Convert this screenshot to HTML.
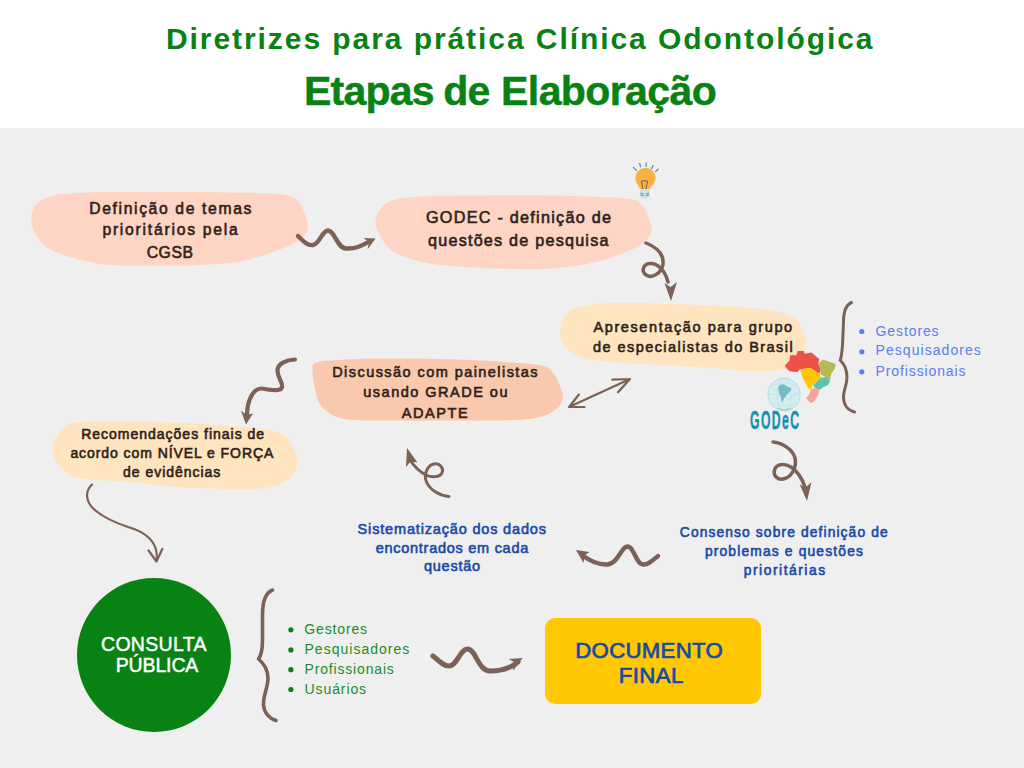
<!DOCTYPE html>
<html><head><meta charset="utf-8">
<style>
html,body{margin:0;padding:0;}
body{width:1024px;height:768px;position:relative;overflow:hidden;background:#fff;font-family:"Liberation Sans",sans-serif;}
#bg{position:absolute;left:0;top:128px;width:1024px;height:640px;background:#efefef;}
svg{position:absolute;left:0;top:0;}
.t{position:absolute;white-space:nowrap;line-height:1;}
.h1{color:#078213;font-weight:bold;font-size:30px;letter-spacing:1.93px;}
.h2{color:#078213;font-weight:bold;font-size:41px;letter-spacing:-0.8px;word-spacing:-1px;-webkit-text-stroke:0.5px #078213;}
.bx{color:#30221a;}
.bl{color:#184ba8;}
.gl{color:#1b8c26;}
.bu{color:#5a7ef0;}
.cw{color:#fff;}
.cd{color:#174aa8;}
</style></head>
<body>
<div id="bg"></div>
<svg width="1024" height="768" viewBox="0 0 1024 768">
  <!-- blobs -->
  <path fill="#fed5c4" d="M31.3,221.0 C30.9,215.0 32.6,208.1 36.7,203.8 C40.8,199.5 47.5,196.9 56.0,195.0 C64.5,193.1 76.8,193.0 87.5,192.5 C98.2,192.0 103.8,192.1 120.0,192.0 C136.2,191.9 163.8,191.9 185.0,192.0 C206.2,192.1 231.9,192.5 247.5,192.8 C263.1,193.1 271.1,193.2 278.8,194.0 C286.6,194.8 290.1,195.3 294.0,197.5 C297.9,199.7 299.7,202.5 302.0,206.9 C304.3,211.3 307.3,219.1 307.6,224.0 C307.9,228.9 307.6,232.6 303.8,236.5 C300.0,240.4 294.4,243.6 285.0,247.5 C275.6,251.4 259.0,257.2 247.5,260.0 C236.0,262.8 226.4,263.1 216.0,264.0 C205.6,264.9 201.2,265.2 185.0,265.5 C168.8,265.8 135.1,266.2 118.8,265.5 C102.5,264.8 98.0,263.8 87.5,261.5 C77.0,259.2 64.1,255.6 56.0,252.0 C47.9,248.4 43.1,244.9 39.0,239.7 C34.9,234.5 31.7,227.0 31.3,221.0 Z"/>
  <path fill="#fed5c4" d="M375.5,224.0 C374.7,218.0 378.0,212.4 381.0,208.4 C384.0,204.4 387.4,201.8 393.4,199.8 C399.4,197.9 405.2,197.4 416.9,196.7 C428.6,196.0 444.9,195.8 463.8,195.6 C482.6,195.3 510.2,195.1 530.0,195.2 C549.8,195.3 565.9,195.7 582.5,196.2 C599.1,196.8 619.5,197.2 629.4,198.8 C639.3,200.3 638.8,202.4 641.9,205.3 C645.0,208.2 646.4,212.1 648.0,216.2 C649.6,220.4 652.2,226.1 651.7,230.3 C651.2,234.5 648.7,237.9 645.0,241.2 C641.3,244.6 637.2,247.2 629.4,250.6 C621.6,254.0 608.4,258.9 598.0,261.6 C587.6,264.3 578.2,265.7 566.9,267.0 C555.6,268.3 544.6,269.3 530.0,269.4 C515.4,269.5 495.2,268.7 479.0,267.8 C462.8,266.9 445.5,266.1 432.5,264.0 C419.5,261.9 408.8,258.6 401.0,255.3 C393.2,252.0 389.9,249.6 385.6,244.4 C381.4,239.2 376.3,230.0 375.5,224.0 Z"/>
  <path fill="#fee5c0" d="M560.2,329.0 C560.3,324.3 562.6,320.0 564.8,316.6 C567.0,313.2 568.0,310.9 573.4,308.8 C578.8,306.6 587.8,305.0 596.9,304.0 C606.0,303.0 612.5,302.7 628.0,302.8 C643.5,302.9 669.2,303.9 690.0,304.8 C710.8,305.7 736.9,306.6 752.5,308.0 C768.1,309.4 776.2,311.2 783.8,313.4 C791.3,315.6 794.4,317.9 797.8,321.2 C801.2,324.6 802.7,329.8 804.0,333.8 C805.3,337.7 806.4,340.8 805.6,344.7 C804.8,348.6 803.0,353.1 799.4,357.2 C795.8,361.2 791.6,366.7 783.8,369.0 C775.9,371.3 764.8,371.4 752.5,371.2 C740.2,371.1 725.5,369.0 710.0,368.0 C694.5,367.0 675.6,366.0 659.4,365.0 C643.1,364.0 625.6,363.5 612.5,362.2 C599.4,360.9 589.1,360.1 581.0,357.2 C572.9,354.3 567.5,349.4 564.0,344.7 C560.5,340.0 560.1,333.7 560.2,329.0 Z"/>
  <path fill="#f8c9ad" d="M312.5,370.3 C312.7,367.5 311.7,364.9 314.8,363.3 C317.9,361.7 320.5,361.4 331.0,360.6 C341.5,359.8 358.2,358.8 378.0,358.6 C397.8,358.4 428.7,358.7 450.0,359.3 C471.3,359.9 490.2,360.9 505.7,362.0 C521.2,363.1 534.8,363.8 542.8,365.8 C550.8,367.8 551.0,370.4 553.9,374.0 C556.8,377.6 558.9,383.4 560.4,387.1 C561.9,390.8 562.9,393.3 562.8,396.4 C562.6,399.5 562.2,402.6 559.5,405.7 C556.8,408.8 552.4,412.7 546.5,415.0 C540.6,417.3 533.6,418.7 524.2,419.6 C514.8,420.5 502.4,420.4 490.0,420.6 C477.6,420.8 465.0,420.6 450.0,420.6 C435.0,420.6 415.0,420.7 400.0,420.6 C385.0,420.5 370.0,420.6 360.0,420.2 C350.0,419.8 345.5,419.4 340.0,418.0 C334.5,416.6 330.5,414.0 327.0,411.5 C323.5,409.0 320.9,406.2 319.0,403.0 C317.1,399.8 316.4,395.8 315.5,392.0 C314.6,388.2 314.0,383.6 313.5,380.0 C313.0,376.4 312.3,373.1 312.5,370.3 Z"/>
  <path fill="#fee5c0" d="M52.3,446.9 C52.9,443.0 55.3,438.2 57.8,434.6 C60.3,431.0 63.4,427.1 67.3,425.0 C71.2,422.9 71.9,422.7 81.0,422.0 C90.1,421.3 107.2,420.8 122.0,420.9 C136.8,420.9 155.2,421.7 170.0,422.3 C184.8,422.9 197.3,423.5 211.0,424.4 C224.7,425.3 240.6,426.4 252.0,427.8 C263.4,429.2 273.0,430.1 279.4,432.6 C285.8,435.1 287.4,439.1 290.3,442.8 C293.2,446.5 295.2,451.6 296.5,455.0 C297.8,458.4 298.3,460.3 297.8,463.3 C297.3,466.3 295.6,469.9 293.7,472.9 C291.8,475.8 290.9,478.5 286.2,481.0 C281.5,483.5 273.7,486.5 265.7,487.9 C257.7,489.3 249.8,489.3 238.4,489.3 C227.0,489.3 208.7,488.4 197.3,488.0 C185.9,487.6 180.3,487.5 170.0,486.6 C159.7,485.7 148.2,483.6 135.7,482.5 C123.1,481.4 105.0,480.6 94.7,479.7 C84.5,478.8 79.7,478.8 74.2,477.0 C68.7,475.2 65.2,472.0 61.9,468.8 C58.6,465.6 56.0,461.5 54.4,457.9 C52.8,454.2 51.7,450.8 52.3,446.9 Z"/>
  <circle cx="154" cy="655" r="77" fill="#078213"/>
  <rect x="545" y="618" width="216" height="86" rx="10" fill="#ffc800"/>
  <!-- arrows -->
  <g fill="none" stroke="#7c6157" stroke-linecap="round" stroke-linejoin="round">
    <path stroke-width="4.4" d="M298,236 C304,242 308,246 313,245 C320,244 322,230.5 328,230.5 C335,231 337,248 346,248.5 C356,249 364,245 370,241"/>
    <path stroke-width="3.5" d="M646,243 C656,247 664,254 663,264 C662,273 652,279 646,275 C641,271 643,264 650,263.5 C657,263 665,270 668,282"/>
    <path stroke-width="2.2" d="M569,407 L630,379 M579,394.5 L569,407 L584.5,407 M612.3,379.7 L630,379 L618,392.3"/>
    <path stroke-width="4.2" d="M295,359.5 C287,360 278,363 277.5,370 C277,377 283,382 282,387 C281,392 270,390 262,388.5 C254,388 249,398 247.5,408 L247,414"/>
    <path stroke-width="2.2" d="M92,484.5 C84,492 86,503 96,511 C106,519 116,523 128,527 C142,531 152,538 155.5,548 C157,553 157,558 156.5,561.5 M148.5,550.5 L156.5,561.5 L162.3,549"/>
    <path stroke-width="3" d="M449,496.5 C440,496 430,490 426.5,482 C423,474 428,465 434,464 C440,463 444,468 442,473 C440,477 432,478 426,475 C420,472 414,466 410,460"/>
    <path stroke-width="3.5" d="M773,442 C783,443 793,450 795,458 C797,467 792,476 785,478.5 C778,481 773,476 774.5,470 C776,464 784,463 791,467 C797,471 802,478 805,487"/>
    <path stroke-width="4.4" d="M658,556 C652,561 648,565 643,564.5 C636,564 634,546.5 627.5,546.5 C621,546.5 618,564 607,564.5 C598,565 590,561 582,555"/>
    <path stroke-width="5" d="M433,656 C440,662 444,666 449,666 C457,666 460,649 467.5,649 C476,649 478,671 490,671 C502,671 512,667 518,662"/>
    <path stroke-width="3" d="M851.5,302.5 C845.5,305 843.5,312 843.5,322 L842.5,345 C842,352 841.5,357 840.2,360.3 C844,364 847,370 847,377 C847,385 843.5,390 843.5,397 C843.5,405 848,410.5 854.5,412"/>
    <path stroke-width="3.6" d="M272.5,590 C265,593 262.5,602 262.5,615 L262.5,640 C262.5,650 261.5,655 258.5,659 C262,662 268,668 268,678 C268,688 263,695 263.5,705 C264,713 270,719 276,720.5"/>
  </g>
  <g fill="#7c6157">
    <path d="M375.5,238.5 L363.5,238 L369,242 L367.5,249.5 Z"/>
    <path d="M664.5,283 L670.5,287 L677,282 L671,301 Z"/>
    <path d="M241,410.5 L246.5,415 L253,413.5 L246,424.5 Z"/>
    <path d="M407,448 L406,467 L410.5,461.5 L417.5,462.5 Z"/>
    <path d="M799.5,484 L805,488 L811.5,482 L807,501 Z"/>
    <path d="M576,550 L589.5,552 L584.5,555.5 L583.5,563 Z"/>
    <path d="M522.7,658 L508.8,659 L514,662 L513,670.8 Z"/>
  </g>
  <!-- bullets -->
  <g fill="#078213"><circle cx="290.9" cy="629.8" r="2.6"/><circle cx="290.9" cy="649.9" r="2.6"/><circle cx="290.9" cy="669.7" r="2.6"/><circle cx="290.9" cy="689.5" r="2.6"/></g>
  <g fill="#5a7ef0"><circle cx="861.8" cy="331.5" r="2.6"/><circle cx="861.8" cy="351.8" r="2.6"/><circle cx="861.8" cy="371.8" r="2.6"/></g>
  <!-- brazil map -->
  <path fill="#ee5246" d="M784.9,365.4 L789.5,360.8 L790.1,355.6 L792.7,355 L796,355.6 L797.9,351.1 L803.8,351.1 L804.5,353.7 L811.6,352.4 L814.9,355.6 L819.4,358.9 L818.1,363.4 L820.7,368.6 L819.4,373.9 L815.5,371.25 L810.3,368 L799.9,369.3 L797.3,371.9 L789.5,371.25 L786.2,368 Z"/>
  <path fill="#b5ba58" d="M818.1,363.4 L823.3,359.5 L835.7,364.1 L835.1,368 L831.1,373.9 L829.8,381.7 L825.9,377.1 L820.7,374.5 L820.1,368.6 Z"/>
  <path fill="#ffc600" d="M799.9,369.3 L810.3,368 L815.5,371.25 L820.1,374.5 L820.7,377.8 L816.8,381.7 L812.9,384.3 L811,390.1 L807.7,387.5 L805.1,382.3 L802.5,377.8 L801.2,372.6 Z"/>
  <path fill="#5cc4ad" d="M812.9,384.9 L816.8,381.7 L820.7,377.8 L825.9,377.1 L829.8,381.7 L827.9,384.9 L823.3,386.9 L819.4,390.1 L815.5,388.2 Z"/>
  <path fill="#f7a39b" d="M811,390.1 L815.5,387.5 L819.4,390.8 L818.1,395.3 L814.2,401.2 L811,403.2 L805.8,397.9 L809,394.7 Z"/>
  <!-- globe -->
  <circle cx="784.1" cy="394.5" r="16.3" fill="#d6edef" stroke="#b9dfe3" stroke-width="1"/><path d="M777,408 C781,410.5 788,410.5 792,408" fill="none" stroke="#a9d6dc" stroke-width="2"/>
  <g fill="none" stroke="#a6d4da" stroke-width="0.6" opacity="0.55"><ellipse cx="784.1" cy="394.5" rx="7" ry="16"/><line x1="768" y1="394.5" x2="800" y2="394.5"/><path d="M770,386 C778,383 790,383 798,386 M770,403 C778,406 790,406 798,403"/><path d="M772,388 L790,400 L797,392 M776,400 L786,386"/></g>
  <path fill="#72bcc6" d="M778.3,387 L780.6,384.7 L783.75,384.3 L786.9,386.25 L791.6,388.6 L790,391.7 L786.9,394.5 L785.3,397.2 L783.75,398.75 L782.6,402.7 L781.4,401.1 L781,397.2 L779,392.5 L778.3,389.4 Z"/>
  <!-- lightbulb -->
  <g>
    <g stroke="#5578a8" stroke-width="1.1" stroke-linecap="round">
      <line x1="633.4" y1="167.3" x2="636.4" y2="170.3"/><line x1="639.7" y1="163.4" x2="640.5" y2="166.8"/><line x1="646.3" y1="162.8" x2="646.1" y2="166.4"/><line x1="653.1" y1="165.6" x2="651.6" y2="168.7"/><line x1="658.2" y1="169.2" x2="655.6" y2="171.6"/>
    </g>
    <path d="M645.5,168 C651.5,168 655.6,172.5 655.6,178 C655.6,182.5 652,185 649.8,189.3 L640.2,189.3 C638,185 635.4,182.5 635.4,178 C635.4,172.5 639.5,168 645.5,168 Z" fill="#fbb044"/>
    <path d="M641.5,181.5 L643,189 M647.5,181.5 L646,189 M641,181.5 C643,180.5 646,180.5 648,181.5" stroke="#4d5a6a" stroke-width="0.9" fill="none"/>
    <path d="M640,189.3 L649.6,189.3 L649.4,196.8 L647,198.8 L642.5,198.8 L640.2,196.8 Z" fill="#cce3e6"/>
    <path d="M640.5,193 L643.5,194 M640.5,195 L643.5,195.5 M646,194 L649,193 M646,195.5 L649,195" stroke="#5a84b0" stroke-width="0.9"/>
  </g>
</svg>

<div class="t h1" style="left:166px;top:24px;">Diretrizes para prática Clínica Odontológica</div>
<div class="t h2" style="left:304px;top:71px;">Etapas de <span style="letter-spacing:-0.6px;margin-left:2px">Elaboração</span></div>
<div class="t bx" style="left:89.2px;top:200.7px;font-size:15.7px;letter-spacing:1.64px;font-weight:normal;-webkit-text-stroke:0.6px currentColor;">Definição de temas</div>
<div class="t bx" style="left:102.4px;top:222.2px;font-size:15.7px;letter-spacing:1.76px;font-weight:normal;-webkit-text-stroke:0.6px currentColor;">prioritários pela</div>
<div class="t bx" style="left:146.7px;top:244.5px;font-size:15.7px;letter-spacing:0.60px;font-weight:normal;-webkit-text-stroke:0.6px currentColor;">CGSB</div>
<div class="t bx" style="left:426.0px;top:209.3px;font-size:16.2px;letter-spacing:1.26px;font-weight:normal;-webkit-text-stroke:0.6px currentColor;">GODEC - definição de</div>
<div class="t bx" style="left:428.0px;top:231.8px;font-size:16.2px;letter-spacing:1.21px;font-weight:normal;-webkit-text-stroke:0.6px currentColor;">questões de pesquisa</div>
<div class="t bx" style="left:593.5px;top:319.7px;font-size:14.5px;letter-spacing:1.59px;font-weight:normal;-webkit-text-stroke:0.6px currentColor;">Apresentação para grupo</div>
<div class="t bx" style="left:593.0px;top:339.7px;font-size:14.5px;letter-spacing:1.44px;font-weight:normal;-webkit-text-stroke:0.6px currentColor;">de especialistas do Brasil</div>
<div class="t bx" style="left:332.2px;top:364.9px;font-size:14.5px;letter-spacing:1.44px;font-weight:normal;-webkit-text-stroke:0.6px currentColor;">Discussão com painelistas</div>
<div class="t bx" style="left:363.3px;top:385.3px;font-size:14.5px;letter-spacing:1.49px;font-weight:normal;-webkit-text-stroke:0.6px currentColor;">usando GRADE ou</div>
<div class="t bx" style="left:401.8px;top:405.7px;font-size:14.5px;letter-spacing:1.56px;font-weight:normal;-webkit-text-stroke:0.6px currentColor;">ADAPTE</div>
<div class="t bx" style="left:81.2px;top:427.4px;font-size:14px;letter-spacing:0.99px;font-weight:normal;-webkit-text-stroke:0.6px currentColor;">Recomendações finais de</div>
<div class="t bx" style="left:70.4px;top:446.3px;font-size:14px;letter-spacing:0.93px;font-weight:normal;-webkit-text-stroke:0.6px currentColor;">acordo com NÍVEL e FORÇA</div>
<div class="t bx" style="left:123.0px;top:465.1px;font-size:14px;letter-spacing:0.98px;font-weight:normal;-webkit-text-stroke:0.6px currentColor;">de evidências</div>
<div class="t bl" style="left:357.6px;top:522.2px;font-size:14.5px;letter-spacing:0.83px;font-weight:normal;-webkit-text-stroke:0.6px currentColor;">Sistematização dos dados</div>
<div class="t bl" style="left:375.7px;top:540.7px;font-size:14.5px;letter-spacing:0.73px;font-weight:normal;-webkit-text-stroke:0.6px currentColor;">encontrados em cada</div>
<div class="t bl" style="left:423.9px;top:559.1px;font-size:14.5px;letter-spacing:0.77px;font-weight:normal;-webkit-text-stroke:0.6px currentColor;">questão</div>
<div class="t bl" style="left:679.8px;top:525.8px;font-size:13.8px;letter-spacing:1.12px;font-weight:normal;-webkit-text-stroke:0.6px currentColor;">Consenso sobre definição de</div>
<div class="t bl" style="left:704.9px;top:544.9px;font-size:13.8px;letter-spacing:1.17px;font-weight:normal;-webkit-text-stroke:0.6px currentColor;">problemas e questões</div>
<div class="t bl" style="left:743.8px;top:563.5px;font-size:13.8px;letter-spacing:1.53px;font-weight:normal;-webkit-text-stroke:0.6px currentColor;">prioritárias</div>
<div class="t gl" style="left:304.3px;top:622.0px;font-size:14px;letter-spacing:0.86px;font-weight:normal;">Gestores</div>
<div class="t gl" style="left:304.5px;top:641.8px;font-size:14px;letter-spacing:1.02px;font-weight:normal;">Pesquisadores</div>
<div class="t gl" style="left:304.5px;top:661.9px;font-size:14px;letter-spacing:0.83px;font-weight:normal;">Profissionais</div>
<div class="t gl" style="left:304.5px;top:681.7px;font-size:14px;letter-spacing:0.91px;font-weight:normal;">Usuários</div>
<div class="t bu" style="left:875.6px;top:323.8px;font-size:14px;letter-spacing:0.89px;font-weight:normal;">Gestores</div>
<div class="t bu" style="left:875.6px;top:343.3px;font-size:14px;letter-spacing:1.05px;font-weight:normal;">Pesquisadores</div>
<div class="t bu" style="left:875.6px;top:363.6px;font-size:14px;letter-spacing:0.88px;font-weight:normal;">Profissionais</div>
<div class="t cw" style="left:101.0px;top:634.6px;font-size:19.5px;letter-spacing:0.31px;font-weight:normal;-webkit-text-stroke:0.45px currentColor;">CONSULTA</div>
<div class="t cw" style="left:115.7px;top:655.5px;font-size:19.5px;letter-spacing:-0.13px;font-weight:normal;-webkit-text-stroke:0.45px currentColor;">PÚBLICA</div>
<div class="t cd" style="left:575.3px;top:639.8px;font-size:22.2px;letter-spacing:0.30px;font-weight:normal;-webkit-text-stroke:0.7px currentColor;">DOCUMENTO</div>
<div class="t cd" style="left:618.8px;top:664.7px;font-size:22.2px;letter-spacing:0.40px;font-weight:normal;-webkit-text-stroke:0.7px currentColor;">FINAL</div>
<div class="t" style="left:749.5px;top:407px;font-size:26px;font-weight:bold;color:#1591b0;transform:scaleX(0.47);transform-origin:0 0;letter-spacing:3px;-webkit-text-stroke:0.4px #1591b0">GODeC</div>

</body></html>
